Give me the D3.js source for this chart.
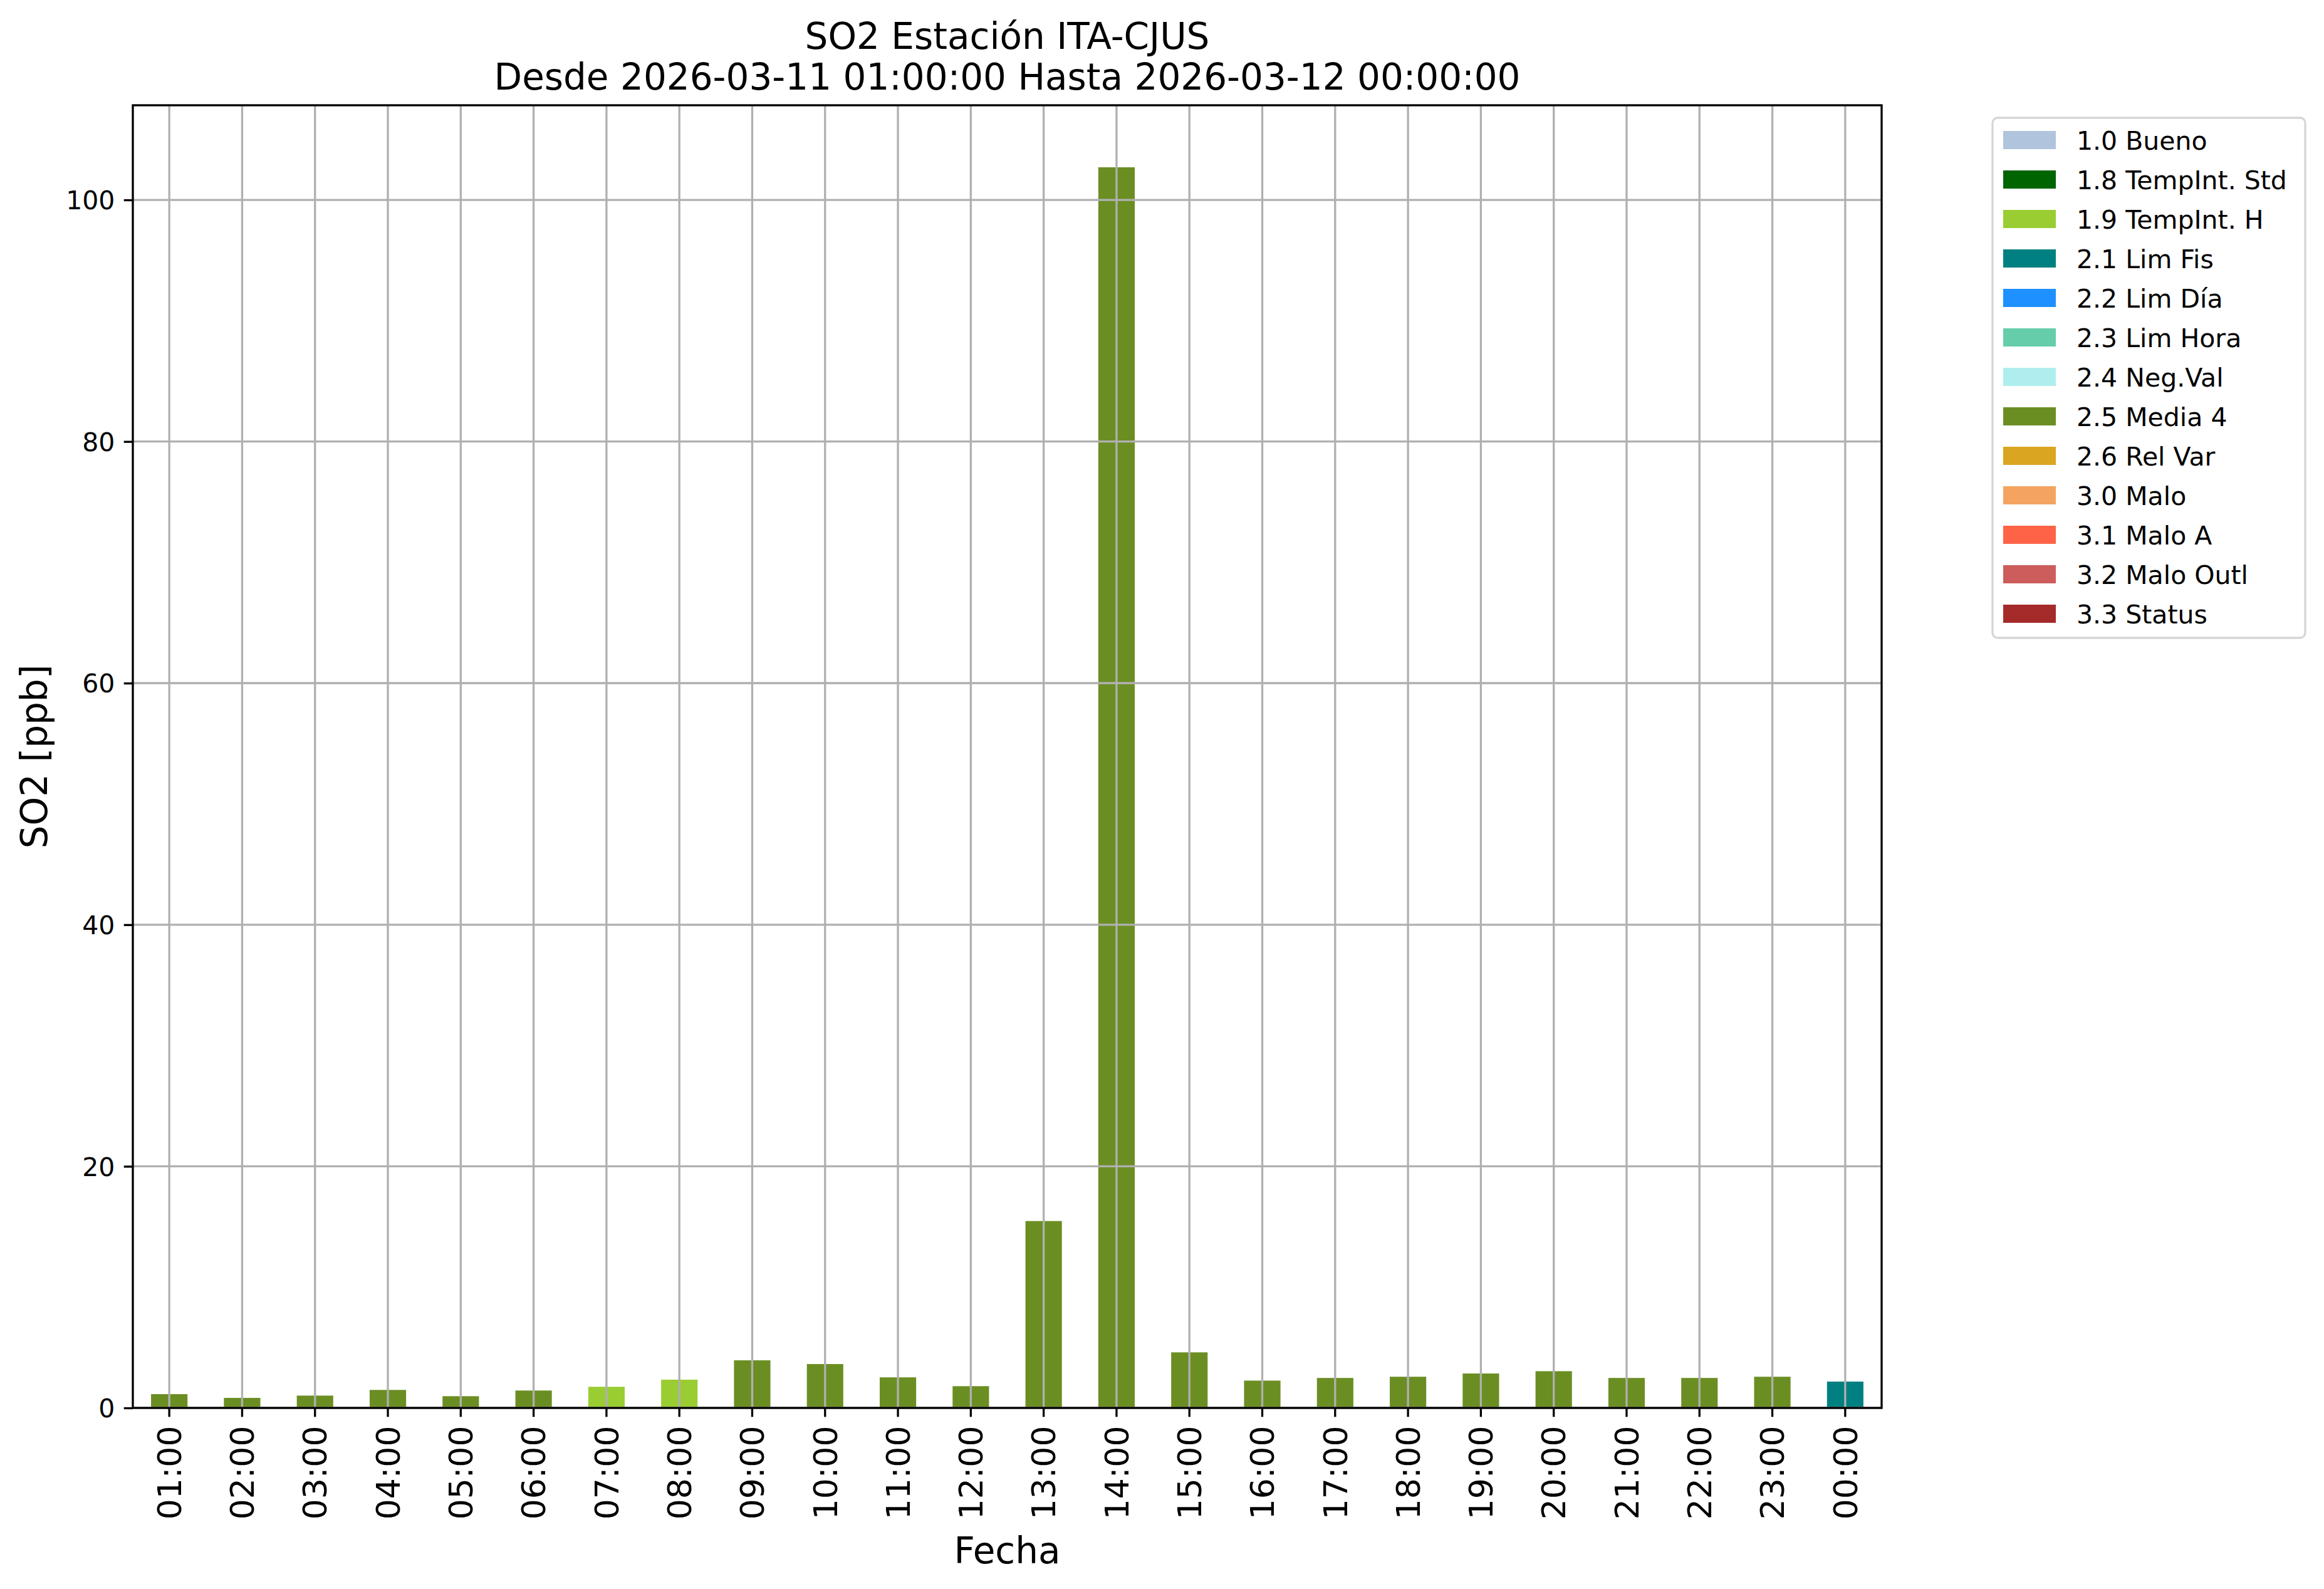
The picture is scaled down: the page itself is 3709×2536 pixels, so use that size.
<!DOCTYPE html>
<html>
<head>
<meta charset="utf-8">
<script src="https://cdn.jsdelivr.net/npm/d3@7"></script>
<style>
  html, body { margin: 0; padding: 0; background: #ffffff; }
  svg { display: block; font-family: "DejaVu Sans", sans-serif; }
</style>
</head>
<body>
<script>
// ---------- data ----------
const hours = ["01:00","02:00","03:00","04:00","05:00","06:00","07:00","08:00","09:00","10:00","11:00","12:00",
               "13:00","14:00","15:00","16:00","17:00","18:00","19:00","20:00","21:00","22:00","23:00","00:00"];
const so2Values = [1.14, 0.83, 1.02, 1.49, 0.97, 1.44, 1.75, 2.34, 3.94, 3.63, 2.53, 1.80,
                   15.47, 102.7, 4.60, 2.26, 2.48, 2.58, 2.85, 3.04, 2.48, 2.48, 2.58, 2.18];
const flags = ["2.5","2.5","2.5","2.5","2.5","2.5","1.9","1.9","2.5","2.5","2.5","2.5",
               "2.5","2.5","2.5","2.5","2.5","2.5","2.5","2.5","2.5","2.5","2.5","2.1"];
const legendCodes  = ["1.0","1.8","1.9","2.1","2.2","2.3","2.4","2.5","2.6","3.0","3.1","3.2","3.3"];
const legendLabels = ["1.0 Bueno","1.8 TempInt. Std","1.9 TempInt. H","2.1 Lim Fis","2.2 Lim Día","2.3 Lim Hora",
                      "2.4 Neg.Val","2.5 Media 4","2.6 Rel Var","3.0 Malo","3.1 Malo A","3.2 Malo Outl","3.3 Status"];
const legendColors = ["#b0c4de","#006400","#9acd32","#008080","#1e90ff","#66cdaa",
                      "#afeeee","#6b8e23","#daa520","#f4a460","#ff6347","#cd5c5c","#a52a2a"];
const yTicks = [0, 20, 40, 60, 80, 100];
const titleLines = ["SO2 Estación ITA-CJUS", "Desde 2026-03-11 01:00:00 Hasta 2026-03-12 00:00:00"];
const xLabel = "Fecha";
const yLabel = "SO2 [ppb]";

// ---------- layout ----------
const W = 3709, H = 2536;
const plot = { left: 212, right: 3003, top: 168, bottom: 2247 };
const lw = 3.3;
const gridColor = "#b0b0b0";

const svg = d3.select("body").append("svg").attr("width", W).attr("height", H);
svg.append("rect").attr("width", W).attr("height", H).attr("fill", "#ffffff");

const x = d3.scaleBand().domain(hours).range([plot.left, plot.right]).padding(0);
const y = d3.scaleLinear().domain([0, d3.max(so2Values) * 1.05]).range([plot.bottom, plot.top]);
const colorOf = d3.scaleOrdinal().domain(legendCodes).range(legendColors);

const data = hours.map((h, i) => ({ h, v: so2Values[i], f: flags[i] }));

// bars
const barW = x.bandwidth() * 0.5;
svg.append("g").selectAll("rect").data(data).join("rect")
  .attr("x", d => x(d.h) + x.bandwidth() / 2 - barW / 2)
  .attr("y", d => y(d.v))
  .attr("width", barW)
  .attr("height", d => y(0) - y(d.v))
  .attr("fill", d => colorOf(d.f));

// grid (drawn above bars, like the reference)
const grid = svg.append("g");
grid.selectAll("line.v").data(hours).join("line").attr("class", "v")
  .attr("x1", d => x(d) + x.bandwidth() / 2).attr("x2", d => x(d) + x.bandwidth() / 2)
  .attr("y1", plot.top).attr("y2", plot.bottom)
  .attr("stroke", gridColor).attr("stroke-width", lw);
grid.selectAll("line.h").data(yTicks).join("line").attr("class", "h")
  .attr("x1", plot.left).attr("x2", plot.right)
  .attr("y1", d => y(d)).attr("y2", d => y(d))
  .attr("stroke", gridColor).attr("stroke-width", lw);

// axes
const xAxis = svg.append("g").attr("transform", `translate(0,${plot.bottom})`)
  .call(d3.axisBottom(x).tickSize(14.3).tickPadding(0).tickSizeOuter(0));
xAxis.select(".domain").remove();
xAxis.selectAll(".tick line").attr("stroke", "#000").attr("stroke-width", lw);
xAxis.selectAll(".tick text")
  .attr("font-size", 52).attr("font-family", "DejaVu Sans").attr("fill", "#000")
  .attr("text-anchor", "end")
  .attr("transform", "translate(0,28.5) rotate(-90)")
  .attr("x", 0).attr("y", 0).attr("dy", "0.36em");

const yAxis = svg.append("g").attr("transform", `translate(${plot.left},0)`)
  .call(d3.axisLeft(y).tickValues(yTicks).tickFormat(d3.format("d")).tickSize(14.3).tickPadding(14.3).tickSizeOuter(0));
yAxis.select(".domain").remove();
yAxis.selectAll(".tick line").attr("stroke", "#000").attr("stroke-width", lw);
yAxis.selectAll(".tick text")
  .attr("font-size", 41).attr("font-family", "DejaVu Sans").attr("fill", "#000")
  .attr("dy", "0.36em");

// spines
svg.append("rect")
  .attr("x", plot.left).attr("y", plot.top)
  .attr("width", plot.right - plot.left).attr("height", plot.bottom - plot.top)
  .attr("fill", "none").attr("stroke", "#000").attr("stroke-width", lw);

// title
svg.append("g").selectAll("text").data(titleLines).join("text")
  .attr("x", (plot.left + plot.right) / 2)
  .attr("y", (d, i) => 78 + i * 65)
  .attr("text-anchor", "middle").attr("font-size", 58).attr("fill", "#000")
  .text(d => d);

// axis labels
svg.append("text")
  .attr("x", (plot.left + plot.right) / 2).attr("y", 2495)
  .attr("text-anchor", "middle").attr("font-size", 58).attr("fill", "#000")
  .text(xLabel);
svg.append("text")
  .attr("transform", `translate(75,${(plot.top + plot.bottom) / 2}) rotate(-90)`)
  .attr("text-anchor", "middle").attr("font-size", 58).attr("fill", "#000")
  .text(yLabel);

// legend
const lg = svg.append("g");
lg.append("rect")
  .attr("x", 3180).attr("y", 188).attr("width", 499).attr("height", 830)
  .attr("rx", 8).attr("ry", 8)
  .attr("fill", "#ffffff").attr("fill-opacity", 0.8)
  .attr("stroke", "#d6d6d6").attr("stroke-width", lw);
const rowY = d3.scaleLinear().domain([0, legendLabels.length - 1]).range([223.5, 979.5]);
const items = lg.selectAll("g.item").data(legendLabels).join("g").attr("class", "item")
  .attr("transform", (d, i) => `translate(0,${rowY(i)})`);
items.append("rect")
  .attr("x", 3197).attr("y", -14.5).attr("width", 84).attr("height", 29)
  .attr("fill", (d, i) => legendColors[i]);
items.append("text")
  .attr("x", 3314).attr("y", 15)
  .attr("font-size", 41).attr("fill", "#000")
  .text(d => d);
</script>
</body>
</html>
